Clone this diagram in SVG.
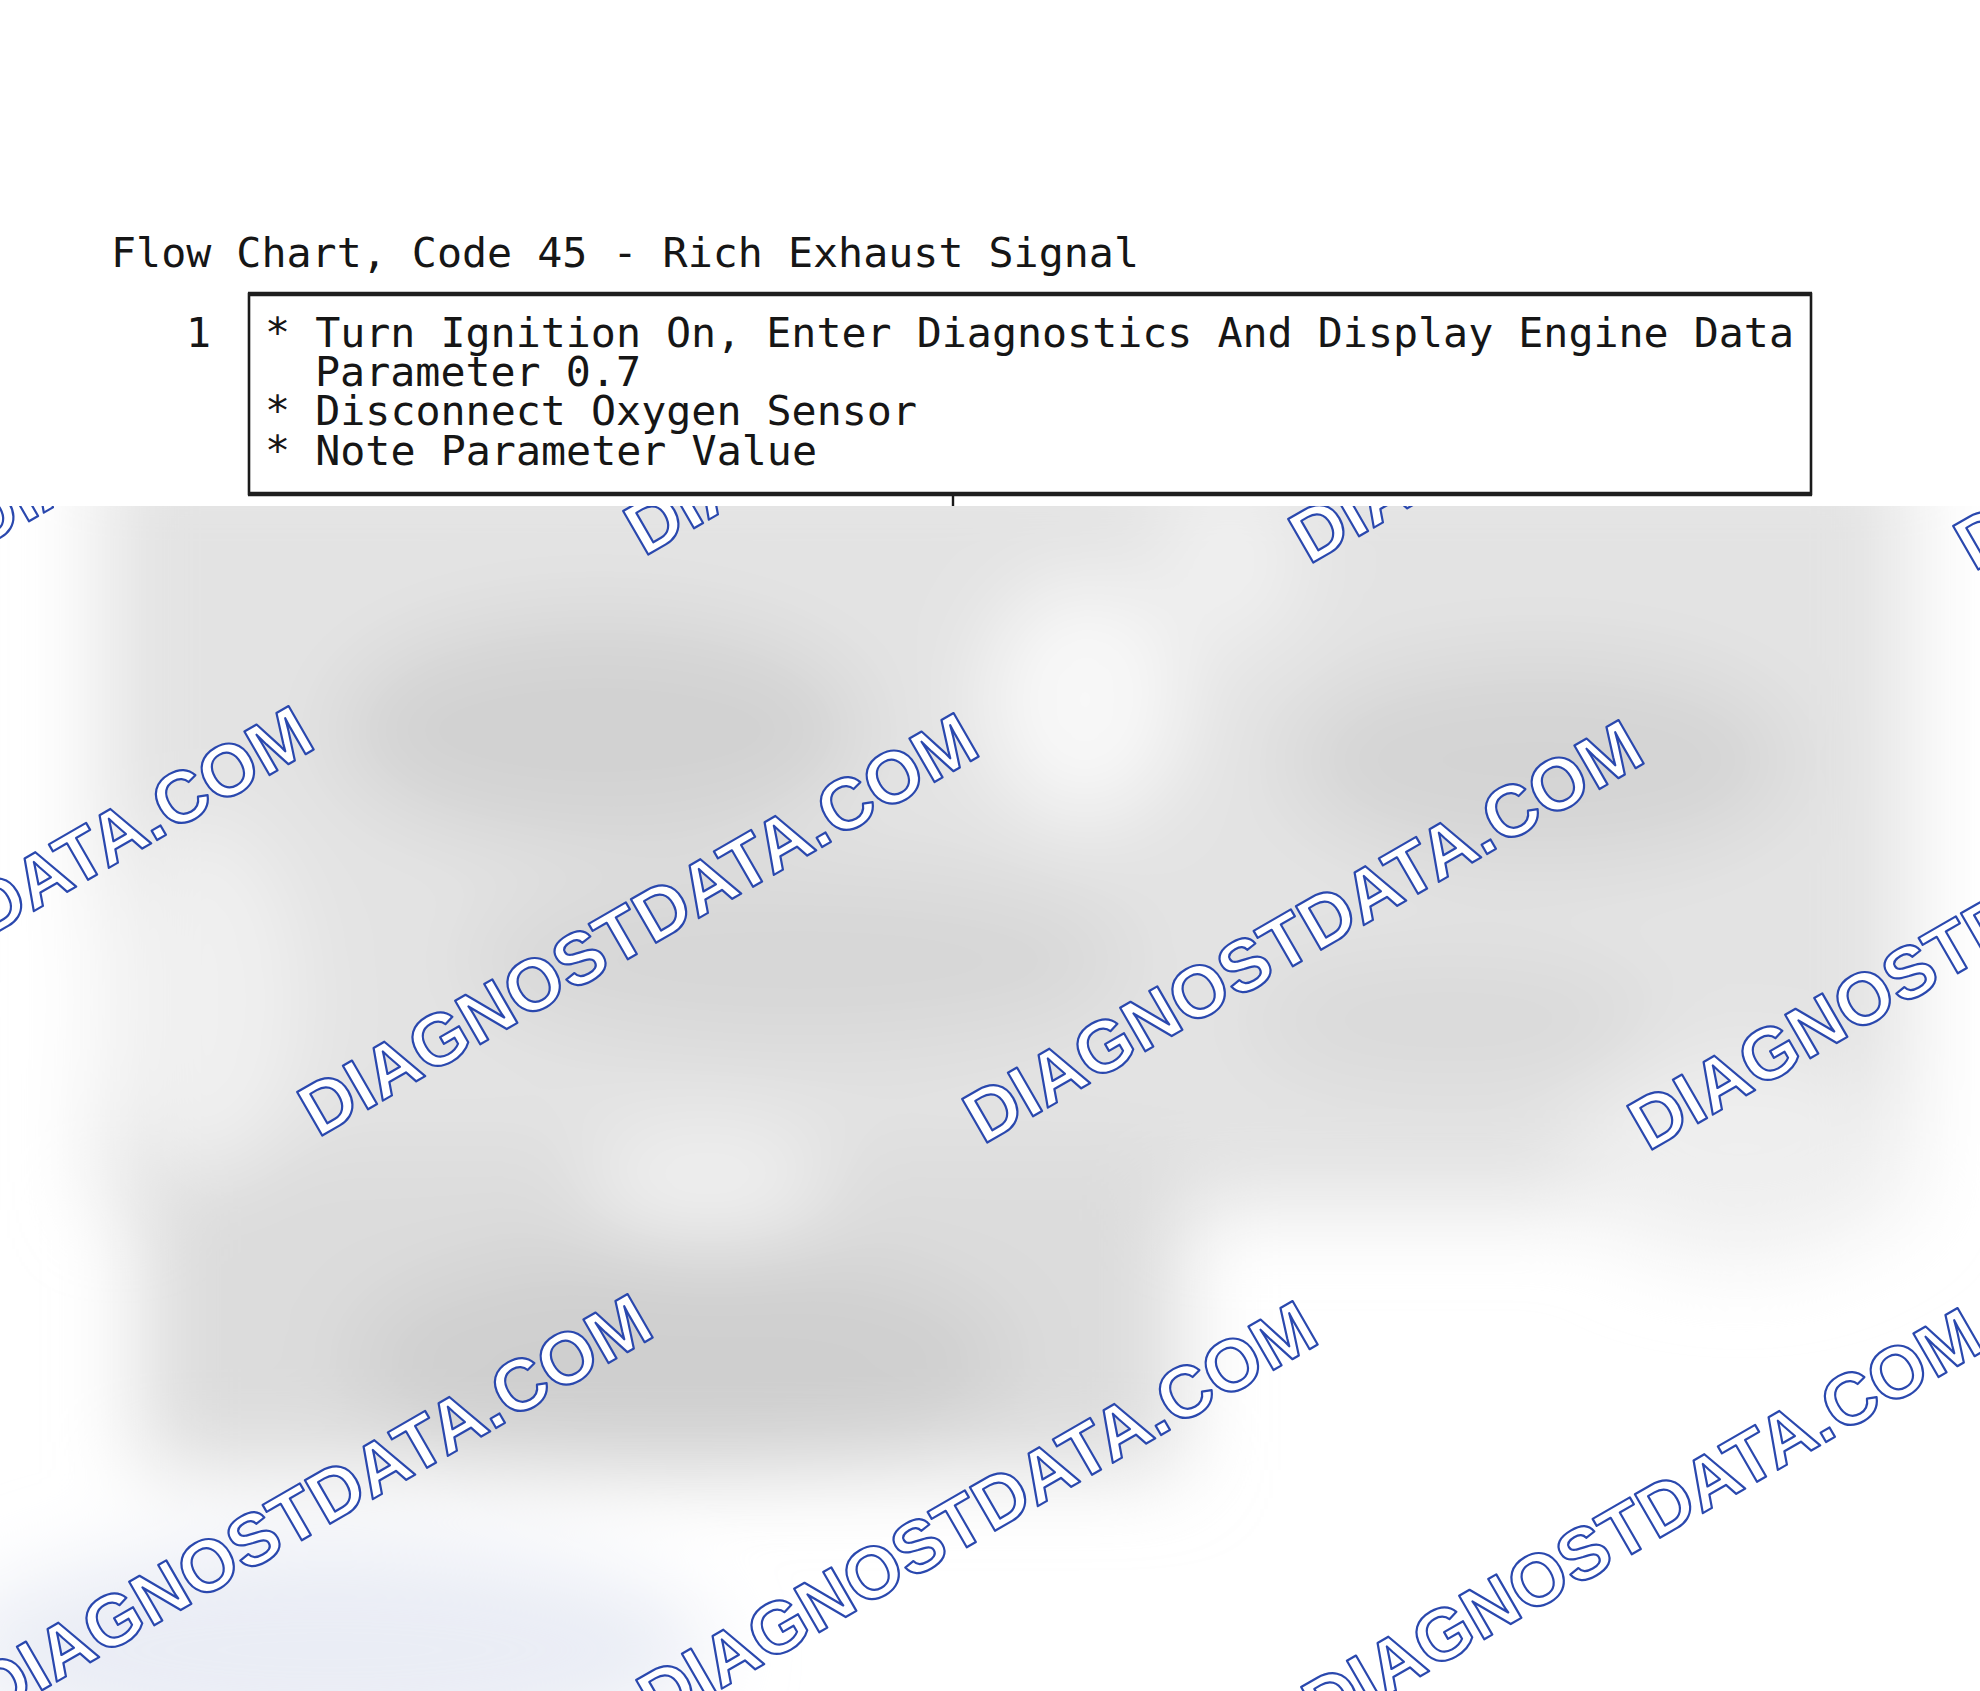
<svg xmlns="http://www.w3.org/2000/svg" width="1980" height="1691" viewBox="0 0 1980 1691">
  <defs>
    <filter id="soft" filterUnits="userSpaceOnUse" x="-300" y="200" width="2600" height="1800">
      <feGaussianBlur stdDeviation="42"/>
    </filter>
    <style>
      .mono { font-family: "DejaVu Sans Mono", "Liberation Mono", monospace; font-size: 41.6px; fill: #161616; }
      .wm { font-family: "Liberation Sans", Arial, sans-serif; font-weight: bold; font-size: 73px; fill: #ffffff; stroke: #2a48ae; stroke-width: 2.2; stroke-linejoin: round; }
      .box { fill: #ffffff; stroke: #1a1a1a; stroke-width: 2.6; }
      .edge { stroke: #1e1e1e; stroke-width: 4.5; }
      .conn { stroke: #1a1a1a; stroke-width: 2.4; fill: none; }
    </style>
  </defs>

  <rect x="0" y="0" width="1980" height="1691" fill="#ffffff"/>

  <g id="blurred-background" filter="url(#soft)">
    <rect x="100" y="440" width="1810" height="770" fill="#e3e3e3"/>
    <rect x="140" y="1150" width="1040" height="320" fill="#dcdcdc"/>
    <ellipse cx="600" cy="730" rx="260" ry="110" fill="#d2d2d2"/>
    <ellipse cx="1540" cy="760" rx="250" ry="100" fill="#d4d4d4"/>
    <ellipse cx="1085" cy="700" rx="100" ry="120" fill="#f8f8f8"/>
    <ellipse cx="1230" cy="560" rx="70" ry="90" fill="#f0f0f0"/>
    <ellipse cx="800" cy="960" rx="330" ry="90" fill="#d7d7d7"/>
    <ellipse cx="1450" cy="1020" rx="200" ry="60" fill="#d9d9d9"/>
    <ellipse cx="200" cy="1000" rx="100" ry="180" fill="#f0f0f0"/>
    <ellipse cx="707" cy="1187" rx="120" ry="60" fill="#efefef"/>
    <ellipse cx="680" cy="1360" rx="330" ry="110" fill="#cfcfcf"/>
    <ellipse cx="1740" cy="1160" rx="170" ry="100" fill="#efefef"/>
    <ellipse cx="330" cy="1650" rx="380" ry="110" fill="#eaedf5"/>
  </g>

  <g id="watermarks">
    <text class="wm" transform="translate(-21 550) rotate(-30)">DIAGNOSTDATA.COM</text>
    <text class="wm" transform="translate(644 557) rotate(-30)">DIAGNOSTDATA.COM</text>
    <text class="wm" transform="translate(1309 565) rotate(-30)">DIAGNOSTDATA.COM</text>
    <text class="wm" transform="translate(1974 572) rotate(-30)">DIAGNOSTDATA.COM</text>
    <text class="wm" transform="translate(-347 1131) rotate(-30)">DIAGNOSTDATA.COM</text>
    <text class="wm" transform="translate(318 1138) rotate(-30)">DIAGNOSTDATA.COM</text>
    <text class="wm" transform="translate(983 1145) rotate(-30)">DIAGNOSTDATA.COM</text>
    <text class="wm" transform="translate(1648 1152) rotate(-30)">DIAGNOSTDATA.COM</text>
    <text class="wm" transform="translate(-8 1719) rotate(-30)">DIAGNOSTDATA.COM</text>
    <text class="wm" transform="translate(657 1726) rotate(-30)">DIAGNOSTDATA.COM</text>
    <text class="wm" transform="translate(1322 1733) rotate(-30)">DIAGNOSTDATA.COM</text>
  </g>

  <rect x="0" y="0" width="1980" height="506" fill="#ffffff"/>

  <text id="title" class="mono" x="111" y="267" textLength="1028" lengthAdjust="spacingAndGlyphs">Flow Chart, Code 45 - Rich Exhaust Signal</text>

  <g id="connectors">
    <line class="conn" x1="953" y1="494" x2="953" y2="506"/>
  </g>

  <g id="node-1">
    <rect class="box" x="249" y="294" width="1562" height="200"/>
    <line class="edge" x1="248" y1="294" x2="1812" y2="294"/>
    <line class="edge" x1="248" y1="494" x2="1812" y2="494"/>
    <text class="mono" x="186" y="347">1</text>
    <text class="mono" x="265" y="347" textLength="1529" lengthAdjust="spacingAndGlyphs">* Turn Ignition On, Enter Diagnostics And Display Engine Data</text>
    <text class="mono" x="315" y="386" textLength="326" lengthAdjust="spacingAndGlyphs">Parameter 0.7</text>
    <text class="mono" x="265" y="425" textLength="652" lengthAdjust="spacingAndGlyphs">* Disconnect Oxygen Sensor</text>
    <text class="mono" x="265" y="465" textLength="552" lengthAdjust="spacingAndGlyphs">* Note Parameter Value</text>
  </g>
</svg>
